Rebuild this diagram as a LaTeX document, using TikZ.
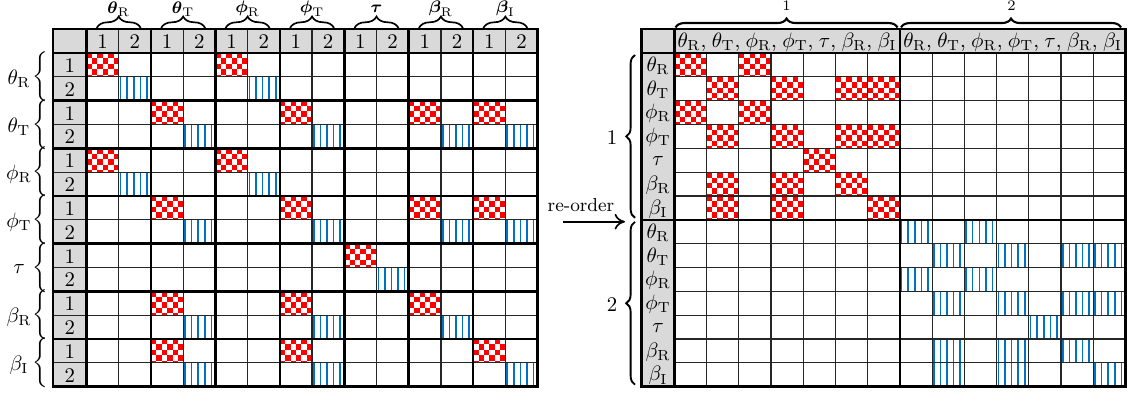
\documentclass[tikz,border=0pt]{standalone}
\usepackage{amsmath}
\usetikzlibrary{decorations.pathreplacing,arrows.meta}
\definecolor{hdrgray}{RGB}{217,217,217}
\definecolor{lineblue}{RGB}{0,114,198}
\tikzset{
  thinline/.style={black!85,line width=0.55pt},
  thickline/.style={black,line width=1.2pt},
  lbl/.style={inner sep=0pt},
  topbraceL/.style={decorate,decoration={brace,amplitude=5.5pt},line width=0.8pt},
  topbraceR/.style={decorate,decoration={brace,amplitude=4.3pt},line width=1pt},
  sidebrace/.style={decorate,decoration={brace,amplitude=4.2pt},line width=0.9pt},
  arrowline/.style={line width=0.8pt,-{To[length=5pt,width=7.5pt]}}
}
\def\mycw{32.22}
\def\myrh{23.83}
\def\mysq{5.4}
\newcommand{\redcell}[2]{%
  \begin{scope}
    \clip (#1,#2) rectangle ++(\mycw,\myrh);
    \foreach \a in {0,2,4} \foreach \b in {0,2,4} {
      \fill[red] ({#1+\a*\mysq},{#2+\b*\mysq}) rectangle ++(\mysq,\mysq);
      \fill[red] ({#1+(\a+1)*\mysq},{#2+(\b+1)*\mysq}) rectangle ++(\mysq,\mysq);
    }
  \end{scope}}
\newcommand{\bluecell}[2]{%
  \foreach \k in {0,...,4}
    \draw[lineblue,line width=0.75pt] ({#1+1.8+\k*6.6},{#2}) -- ++(0,\myrh);}
\begin{document}
\begin{tikzpicture}[x=0.48pt,y=-0.48pt]
\useasboundingbox (0,0) rectangle (1127,397);
\fill[white] (0,0) rectangle (1127,397);
% ---------------- header fills ----------------
\fill[hdrgray] (53,29) rectangle ({86.5+14*\mycw},53);
\fill[hdrgray] (53,29) rectangle (86.5,{53+14*\myrh});
\fill[hdrgray] (641.7,29) rectangle ({674.3+14*\mycw},53);
\fill[hdrgray] (641.7,29) rectangle (674.3,{53+14*\myrh});
% patterns
\foreach \r/\cols in {0/{0,2},1/{1,3,5,6},2/{0,2},3/{1,3,5,6},4/{4},5/{1,3,5},6/{1,3,6}} {
  \foreach \c in \cols {
    \redcell{86.5+2*\c*\mycw}{53+2*\r*\myrh}
    \bluecell{86.5+(2*\c+1)*\mycw}{53+(2*\r+1)*\myrh}
    \redcell{674.3+\c*\mycw}{53+\r*\myrh}
    \bluecell{674.3+(7+\c)*\mycw}{53+(7+\r)*\myrh}
  }
}
% left thin grid
\foreach \j in {1,3,...,13}
  \draw[thinline] ({86.5+\j*\mycw},29) -- ({86.5+\j*\mycw},{53+14*\myrh});
\foreach \i in {1,3,...,13}
  \draw[thinline] (53,{53+\i*\myrh}) -- ({86.5+14*\mycw},{53+\i*\myrh});
% left thick grid
\foreach \j in {0,2,...,14}
  \draw[thickline] ({86.5+\j*\mycw},29) -- ({86.5+\j*\mycw},{53+14*\myrh});
\foreach \i in {0,2,...,14}
  \draw[thickline] (53,{53+\i*\myrh}) -- ({86.5+14*\mycw},{53+\i*\myrh});
\draw[thickline] (53,29) rectangle ({86.5+14*\mycw},{53+14*\myrh});
% right thin grid
\foreach \j in {1,...,6,8,9,...,13}
  \draw[thinline] ({674.3+\j*\mycw},53) -- ({674.3+\j*\mycw},{53+14*\myrh});
\foreach \i in {1,...,6,8,9,...,13}
  \draw[thinline] (674.3,{53+\i*\myrh}) -- ({674.3+14*\mycw},{53+\i*\myrh});
% right thick grid
\draw[thickline] (674.3,29) -- (674.3,{53+14*\myrh});
\draw[thickline] ({674.3+7*\mycw},29) -- ({674.3+7*\mycw},{53+14*\myrh});
\draw[thickline] (641.7,53) -- ({674.3+14*\mycw},53);
\draw[thickline] (641.7,{53+7*\myrh}) -- ({674.3+14*\mycw},{53+7*\myrh});
\draw[thickline] (641.7,29) rectangle ({674.3+14*\mycw},{53+14*\myrh});
% left header numbers
\foreach \j in {0,...,13} {
  \pgfmathtruncatemacro\lab{mod(\j,2)+1}
  \node[lbl] (lh\j) at ({86.5+(\j+0.5)*\mycw},41.5) {\lab};
  \node[lbl] (lv\j) at (69.75,{53+(\j+0.5)*\myrh+0.5}) {\lab};
}
% left labels, braces
\foreach \r/\sym/\bsym in {0/\theta_\mathrm{R}/\boldsymbol{\theta}_\mathrm{R},
    1/\theta_\mathrm{T}/\boldsymbol{\theta}_\mathrm{T},
    2/\phi_\mathrm{R}/\boldsymbol{\phi}_\mathrm{R},
    3/\phi_\mathrm{T}/\boldsymbol{\phi}_\mathrm{T},
    4/\tau/\boldsymbol{\tau},
    5/\beta_\mathrm{R}/\boldsymbol{\beta}_\mathrm{R},
    6/\beta_\mathrm{I}/\boldsymbol{\beta}_\mathrm{I}} {
  \node[lbl] (rb\r) at (40,{53+(2*\r+1)*\myrh}) {$\bigg\{$};
  \node[lbl] (rl\r) at (19,{53+(2*\r+1)*\myrh+2}) {$\sym$};
  \coordinate (tbs\r) at ({86.5+(2*\r+1)*\mycw-22},28);
  \coordinate (tbe\r) at ({86.5+(2*\r+1)*\mycw+22},28);
  \draw[topbraceL] (tbs\r) -- (tbe\r);
  \node[lbl] (tl\r) at ({86.5+(2*\r+1)*\mycw},9) {\footnotesize$\bsym$};
}
% right header column labels
\foreach \i/\sym in {0/\theta_\mathrm{R},1/\theta_\mathrm{T},2/\phi_\mathrm{R},3/\phi_\mathrm{T},4/\tau,5/\beta_\mathrm{R},6/\beta_\mathrm{I}} {
  \node[lbl] (ra\i) at (658,{53+(\i+0.5)*\myrh+1}) {$\sym$};
  \node[lbl] (rc\i) at (658,{53+(\i+7.5)*\myrh+1}) {$\sym$};
}
% right header row text
\foreach \g in {0,1} {
  \node[lbl] (rh\g) at ({674.3+(7*\g+3.5)*\mycw},42) {\makebox[105pt][s]{$\theta_\mathrm{R}$, $\theta_\mathrm{T}$, $\phi_\mathrm{R}$, $\phi_\mathrm{T}$, $\tau$, $\beta_\mathrm{R}$, $\beta_\mathrm{I}$}};
}
% right top braces
\coordinate (b1s) at (675.5,27.5);
\coordinate (b1e) at (897.5,27.5);
\coordinate (b2s) at (901,27.5);
\coordinate (b2e) at (1121,27.5);
\draw[topbraceR] (b1s) -- (b1e);
\draw[topbraceR] (b2s) -- (b2e);
\node[lbl] (bt1) at (786.5,6) {\scriptsize 1};
\node[lbl] (bt2) at (1011.5,6) {\scriptsize 2};
% right side braces
\coordinate (s1b) at (635,{53+7*\myrh-2});
\coordinate (s1t) at (635,55);
\coordinate (s2b) at (635,{53+14*\myrh-2});
\coordinate (s2t) at (635,{53+7*\myrh+2});
\draw[sidebrace] (s1b) -- (s1t);
\draw[sidebrace] (s2b) -- (s2t);
\node[lbl] (ll1) at (612,{53+3.5*\myrh+1}) {1};
\node[lbl] (ll2) at (612,{53+10.5*\myrh+1}) {2};
% arrow
\coordinate (arrS) at (563,221.7);
\coordinate (arrE) at (625,221.7);
\draw[arrowline] (arrS) -- (arrE);
\node[lbl] (reo) at (581,205) {\small re-order};
\end{tikzpicture}
\end{document}
